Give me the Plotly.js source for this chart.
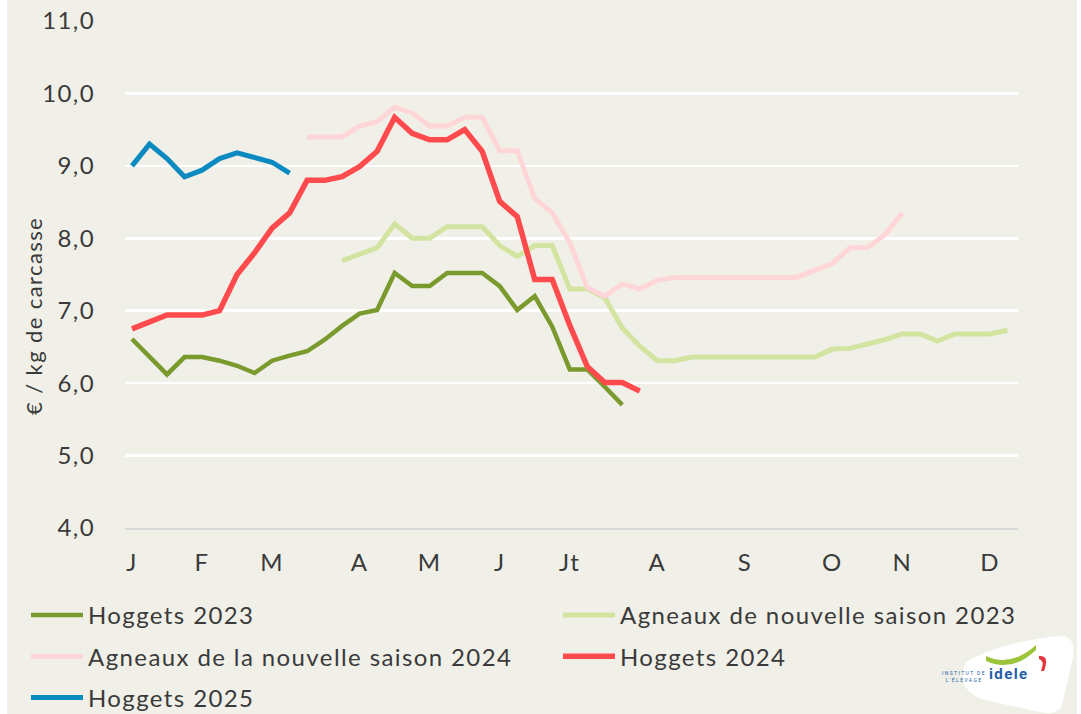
<!DOCTYPE html>
<html>
<head>
<meta charset="utf-8">
<script src="https://cdn.plot.ly/plotly-3.0.1.min.js"></script>
<style>
  html, body { margin: 0; padding: 0; background: #ffffff; }
  #chart { position: absolute; left: 7px; top: 0; width: 1070px; height: 714px; }
  text { letter-spacing: 1.4px; }
</style>
</head>
<body>
<div id="chart"></div>
<script>
// ---- Data (weekly prices, €/kg carcass) ----
const monthTickWeeks = [1, 5, 9, 14, 18, 22, 26, 31, 36, 41, 45, 50];
const monthTickLabels = ["J", "F", "M", "A", "M", "J", "Jt", "A", "S", "O", "N", "D"];
const yTickValues = [4, 5, 6, 7, 8, 9, 10, 11];

const hoggets2023Start = 1;
const hoggets2023 = [6.61, 6.36, 6.12, 6.36, 6.36, 6.31, 6.24, 6.14, 6.31, 6.38,
  6.44, 6.60, 6.79, 6.96, 7.01, 7.52, 7.34, 7.34, 7.52, 7.52,
  7.52, 7.34, 7.01, 7.20, 6.78, 6.19, 6.19, 5.95, 5.70];

const agneaux2023Start = 13;
const agneaux2023 = [7.69, 7.78, 7.87, 8.20, 8.00, 8.00, 8.16, 8.16, 8.16, 7.90,
  7.75, 7.90, 7.90, 7.30, 7.30, 7.18, 6.76, 6.51, 6.31, 6.31,
  6.36, 6.36, 6.36, 6.36, 6.36, 6.36, 6.36, 6.36, 6.47, 6.48,
  6.54, 6.60, 6.68, 6.68, 6.58, 6.68, 6.68, 6.68, 6.73];

const agneaux2024Start = 11;
const agneaux2024 = [9.40, 9.40, 9.40, 9.55, 9.61, 9.81, 9.73, 9.55, 9.55, 9.67,
  9.67, 9.21, 9.21, 8.55, 8.35, 7.94, 7.32, 7.20, 7.37, 7.30,
  7.42, 7.46, 7.46, 7.46, 7.46, 7.46, 7.46, 7.46, 7.46, 7.56,
  7.65, 7.87, 7.87, 8.05, 8.35];

const hoggets2024Start = 1;
const hoggets2024 = [6.75, 6.85, 6.94, 6.94, 6.94, 7.00, 7.50, 7.80, 8.14, 8.35,
  8.80, 8.80, 8.85, 8.99, 9.20, 9.67, 9.45, 9.36, 9.36, 9.50,
  9.20, 8.51, 8.30, 7.43, 7.43, 6.80, 6.23, 6.01, 6.01, 5.89];

const hoggets2025Start = 1;
const hoggets2025 = [9.00, 9.30, 9.10, 8.85, 8.94, 9.10, 9.18, 9.12, 9.05, 8.90];

// ---- Build traces ----
function weeksFrom(start, arr) { return arr.map((_, i) => start + i); }

const seriesDefs = [
  { name: "Hoggets 2023", start: hoggets2023Start, y: hoggets2023, color: "#7A9A2E", width: 4.5, legend: "legend" },
  { name: "Agneaux de nouvelle saison 2023", start: agneaux2023Start, y: agneaux2023, color: "#D2E4A0", width: 5, legend: "legend2" },
  { name: "Agneaux de la nouvelle saison 2024", start: agneaux2024Start, y: agneaux2024, color: "#FFD6D7", width: 5, legend: "legend" },
  { name: "Hoggets 2024", start: hoggets2024Start, y: hoggets2024, color: "#FF4A4E", width: 5.5, legend: "legend2" },
  { name: "Hoggets 2025", start: hoggets2025Start, y: hoggets2025, color: "#0A8AC0", width: 5, legend: "legend" }
];

const traces = seriesDefs.map((s, i) => ({
  type: "scatter",
  mode: "lines",
  name: s.name,
  legend: s.legend,
  legendgroup: "g" + i,
  x: weeksFrom(s.start, s.y),
  y: s.y,
  line: { color: s.color, width: s.width, shape: "linear" }
}));

// ---- Layout geometry helpers (page px -> paper / container) ----
const M = { l: 118, r: 59, t: 21, b: 186, autoexpand: false };
const DIVW = 1070, DIVH = 714, OFFX = 7;
const PW = DIVW - M.l - M.r, PH = DIVH - M.t - M.b;
const px = x => (x - OFFX - M.l) / PW;
const py = y => 1 - (y - M.t) / PH;
const cx = x => (x - OFFX) / DIVW;
const cy = y => 1 - y / DIVH;

const bg = "#F0F0E8";
const txt = "#3A3A3A";
const fam = "Lato, 'Open Sans', sans-serif";

const legendBase = {
  orientation: "v",
  xref: "container", yref: "container",
  xanchor: "left", yanchor: "top",
  bgcolor: "rgba(0,0,0,0)",
  font: { size: 24, color: txt, family: fam },
  itemwidth: 52,
  tracegroupgap: 7,
  traceorder: "grouped"
};

const layout = {
  width: DIVW, height: DIVH,
  margin: M,
  paper_bgcolor: bg,
  plot_bgcolor: bg,
  separators: ",.",
  font: { family: fam, color: txt, size: 22 },
  showlegend: true,
  xaxis: {
    range: [0.6, 51.6],
    tickmode: "array",
    tickvals: monthTickWeeks,
    ticktext: monthTickLabels,
    showgrid: false,
    zeroline: false,
    showline: true,
    linecolor: "#D9D9D9",
    linewidth: 2,
    ticks: "",
    ticklabelstandoff: 12,
    tickfont: { size: 24, color: txt, family: fam },
    fixedrange: true
  },
  yaxis: {
    range: [4, 11],
    tickmode: "array",
    tickvals: yTickValues,
    tickformat: ".1f",
    showgrid: true,
    gridcolor: "#FFFFFF",
    gridwidth: 2.5,
    zeroline: false,
    showline: false,
    ticks: "",
    ticklabelstandoff: 29,
    tickfont: { size: 24, color: txt, family: fam },
    fixedrange: true
  },
  legend: Object.assign({}, legendBase, { x: cx(26), y: cy(593) }),
  legend2: Object.assign({}, legendBase, { x: cx(558), y: cy(593) }),
  annotations: [
    {
      text: "€ / kg de carcasse",
      xref: "paper", yref: "paper",
      x: px(33), y: py(316),
      xanchor: "center", yanchor: "middle",
      textangle: -90,
      showarrow: false,
      font: { size: 22, color: txt, family: fam }
    },
    {
      text: "<b>idele</b>",
      xref: "paper", yref: "paper",
      x: px(1031), y: py(685),
      showarrow: false,
      font: { size: 15, color: "#1F5FA8", family: "Roboto, sans-serif" }
    },
    {
      text: "INSTITUT DE<br>L'ÉLEVAGE",
      xref: "paper", yref: "paper",
      x: px(988), y: py(685),
      showarrow: false,
      font: { size: 5, color: "#1F5FA8", family: "Roboto, sans-serif" }
    }
  ],
  shapes: [
    {
      type: "path", xref: "paper", yref: "paper", layer: "above",
      path: "M " + px(966) + "," + py(662) +
        " Q " + px(1000) + "," + py(642) + " " + px(1060) + "," + py(636) +
        " Q " + px(1078) + "," + py(636) + " " + px(1072) + "," + py(662) +
        " L " + px(1062) + "," + py(705) +
        " Q " + px(1058) + "," + py(716) + " " + px(1040) + "," + py(712) +
        " L " + px(985) + "," + py(700) +
        " Q " + px(954) + "," + py(690) + " " + px(966) + "," + py(662) + " Z",
      fillcolor: "#FFFFFF", line: { width: 0 }
    },
    {
      type: "path", xref: "paper", yref: "paper", layer: "above",
      path: "M " + px(986) + "," + py(656) +
        " Q " + px(1010) + "," + py(668) + " " + px(1036) + "," + py(645) +
        " L " + px(1036) + "," + py(650) +
        " Q " + px(1012) + "," + py(673) + " " + px(986) + "," + py(661) + " Z",
      fillcolor: "#9CC43A", line: { width: 0 }
    },
    {
      type: "path", xref: "paper", yref: "paper", layer: "above",
      path: "M " + px(1039) + "," + py(656) +
        " Q " + px(1050) + "," + py(655) + " " + px(1044) + "," + py(671) +
        " L " + px(1041) + "," + py(671) +
        " Q " + px(1045) + "," + py(660) + " " + px(1039) + "," + py(659) + " Z",
      fillcolor: "#E8343C", line: { width: 0 }
    }
  ]
};

Plotly.newPlot("chart", traces, layout, { displayModeBar: false, staticPlot: true });
</script>
</body>
</html>
